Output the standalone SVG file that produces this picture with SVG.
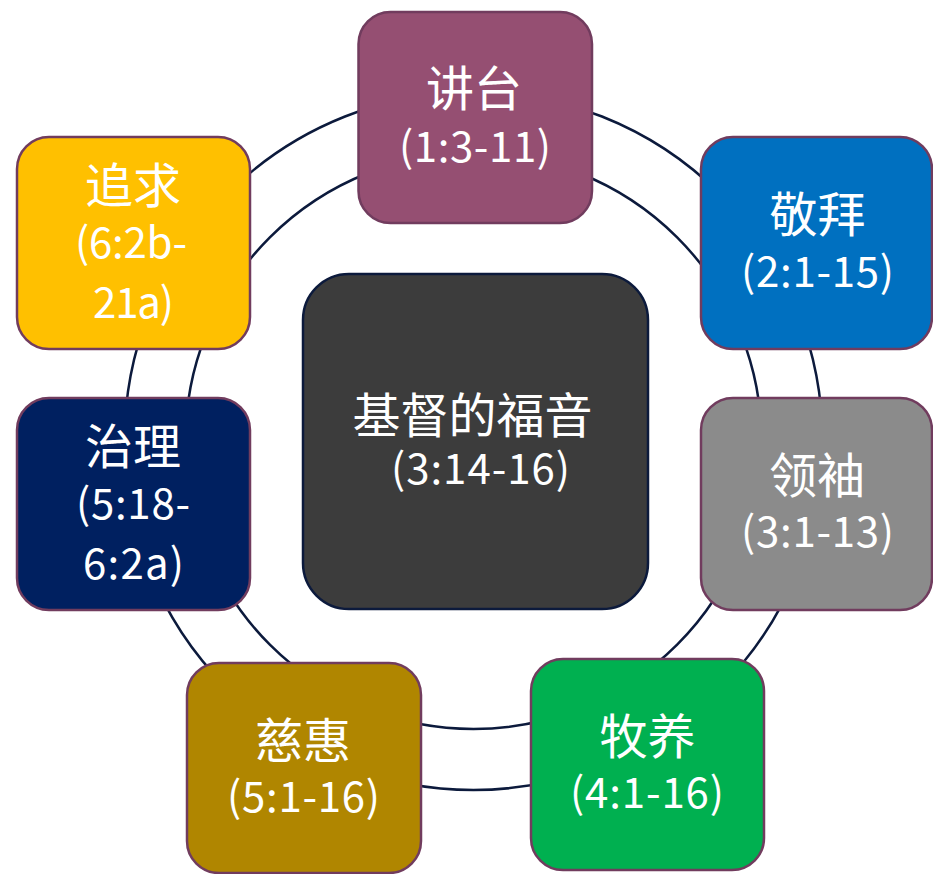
<svg xmlns="http://www.w3.org/2000/svg" width="933" height="874" viewBox="0 0 933 874">
<style>
.ring{fill:none;stroke:#0c1a3c;stroke-width:2.5}
.box{stroke:#713c5e;stroke-width:2.5}
.cj{font-family:"Noto Sans CJK SC","Noto Sans",sans-serif;font-size:48px;fill:#ffffff;text-anchor:middle}
.lt{font-family:"Noto Sans CJK SC","Noto Sans",sans-serif;font-size:42px;fill:#ffffff;text-anchor:middle}
</style>
<rect width="933" height="874" fill="#ffffff"/>
<g id="connectors">
<circle class="ring" cx="473.5" cy="441" r="349"/>
<circle class="ring" cx="473.5" cy="441" r="288"/>
</g>
<g id="center">
<rect x="303" y="274" width="345" height="335" rx="46" fill="#3c3c3c" stroke="#0c1a3c" stroke-width="2.5"/>
<text class="cj" x="472.5" y="433">基督的福音</text>
<text class="lt" x="480.5" y="484" textLength="179">(3:14-16)</text>
</g>
<g id="n-jiangtai">
<rect class="box" x="358.5" y="12" width="233.5" height="211" rx="32" fill="#954f72"/>
<text class="cj" x="474" y="106">讲台</text>
<text class="lt" x="475" y="162" textLength="152">(1:3-11)</text>
</g>
<g id="n-jingbai">
<rect class="box" x="701" y="137" width="231" height="212" rx="32" fill="#0070c0"/>
<text class="cj" x="817.5" y="232">敬拜</text>
<text class="lt" x="817.5" y="287" textLength="153">(2:1-15)</text>
</g>
<g id="n-lingxiu">
<rect class="box" x="701" y="398" width="231" height="212" rx="32" fill="#8b8b8b"/>
<text class="cj" x="817" y="493">领袖</text>
<text class="lt" x="817.5" y="547" textLength="153">(3:1-13)</text>
</g>
<g id="n-muyang">
<rect class="box" x="531" y="659" width="233" height="211" rx="32" fill="#00b050"/>
<text class="cj" x="647.5" y="754">牧养</text>
<text class="lt" x="647" y="808" textLength="154">(4:1-16)</text>
</g>
<g id="n-cihui">
<rect class="box" x="187" y="663" width="234" height="210" rx="32" fill="#b08600"/>
<text class="cj" x="303" y="758">慈惠</text>
<text class="lt" x="303.5" y="812" textLength="153">(5:1-16)</text>
</g>
<g id="n-zhili">
<rect class="box" x="17" y="398" width="233" height="212" rx="32" fill="#002060"/>
<text class="cj" x="133" y="464">治理</text>
<text class="lt" x="133" y="519" textLength="114">(5:18-</text>
<text class="lt" x="133.5" y="579" textLength="101">6:2a)</text>
</g>
<g id="n-zhuiqiu">
<rect class="box" x="17" y="137" width="233" height="212" rx="32" fill="#ffc000"/>
<text class="cj" x="133" y="203">追求</text>
<text class="lt" x="131" y="258" textLength="112">(6:2b-</text>
<text class="lt" x="133.5" y="318" textLength="81">21a)</text>
</g>
</svg>
